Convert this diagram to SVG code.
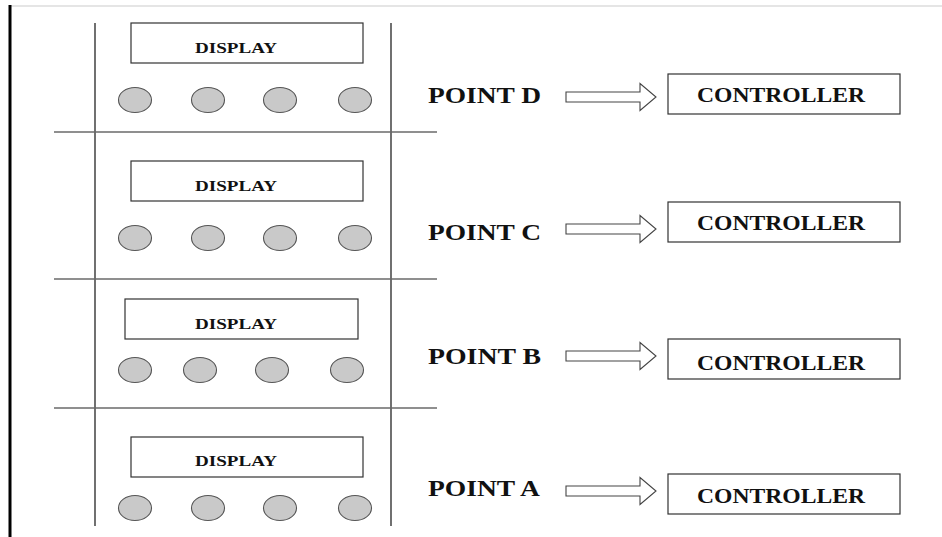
<svg xmlns="http://www.w3.org/2000/svg" width="942" height="537" viewBox="0 0 942 537">
<style>
.bg{fill:#fff}
.frame{stroke:#111;stroke-width:1.2;fill:none}
.sep{stroke:#6a6a6a;stroke-width:1.4;fill:none}
.disp{fill:#fff;stroke:#333;stroke-width:1.2}
.btn{fill:#c9c9c9;stroke:#555;stroke-width:1.1}
.ctrl{fill:#fff;stroke:#333;stroke-width:1.2}
.arrow{fill:#fff;stroke:#444;stroke-width:1.1}
.t{font-family:"Liberation Serif","Times New Roman",serif;font-weight:bold;fill:#111}
.dt{font-size:15px}
.pt{font-size:23px}
.ct{font-size:20px}
</style>
<rect class="bg" x="0" y="0" width="942" height="537"/>
<line x1="10" y1="6" x2="942" y2="6" stroke="#dcdcdc" stroke-width="1.5"/>
<line x1="10" y1="5" x2="10" y2="537" stroke="#000" stroke-width="3"/>

<g id="frame">
<line class="frame" x1="95" y1="23" x2="95" y2="526"/>
<line class="frame" x1="391" y1="23" x2="391" y2="526"/>
<line class="sep" x1="54" y1="132" x2="437" y2="132"/>
<line class="sep" x1="54" y1="279" x2="437" y2="279"/>
<line class="sep" x1="54" y1="408" x2="437" y2="408"/>
</g>

<g id="panel-d">
<rect class="disp" x="131" y="23" width="232" height="40"/>
<text class="t dt" x="236" y="53" text-anchor="middle" textLength="82" lengthAdjust="spacingAndGlyphs">DISPLAY</text>
<ellipse class="btn" cx="135" cy="100" rx="16.5" ry="12.5"/>
<ellipse class="btn" cx="208" cy="100" rx="16.5" ry="12.5"/>
<ellipse class="btn" cx="280" cy="100" rx="16.5" ry="12.5"/>
<ellipse class="btn" cx="355" cy="100" rx="16.5" ry="12.5"/>
</g>

<g id="panel-c">
<rect class="disp" x="131" y="161" width="232" height="40"/>
<text class="t dt" x="236" y="191" text-anchor="middle" textLength="82" lengthAdjust="spacingAndGlyphs">DISPLAY</text>
<ellipse class="btn" cx="135" cy="238" rx="16.5" ry="12.5"/>
<ellipse class="btn" cx="208" cy="238" rx="16.5" ry="12.5"/>
<ellipse class="btn" cx="280" cy="238" rx="16.5" ry="12.5"/>
<ellipse class="btn" cx="355" cy="238" rx="16.5" ry="12.5"/>
</g>

<g id="panel-b">
<rect class="disp" x="125" y="299" width="233" height="40"/>
<text class="t dt" x="236" y="329" text-anchor="middle" textLength="82" lengthAdjust="spacingAndGlyphs">DISPLAY</text>
<ellipse class="btn" cx="135" cy="370" rx="16.5" ry="12.5"/>
<ellipse class="btn" cx="200" cy="370" rx="16.5" ry="12.5"/>
<ellipse class="btn" cx="272" cy="370" rx="16.5" ry="12.5"/>
<ellipse class="btn" cx="347" cy="370" rx="16.5" ry="12.5"/>
</g>

<g id="panel-a">
<rect class="disp" x="131" y="437" width="232" height="40"/>
<text class="t dt" x="236" y="466" text-anchor="middle" textLength="82" lengthAdjust="spacingAndGlyphs">DISPLAY</text>
<ellipse class="btn" cx="135" cy="508" rx="16.5" ry="12.5"/>
<ellipse class="btn" cx="208" cy="508" rx="16.5" ry="12.5"/>
<ellipse class="btn" cx="280" cy="508" rx="16.5" ry="12.5"/>
<ellipse class="btn" cx="355" cy="508" rx="16.5" ry="12.5"/>
</g>

<g id="point-d"><text class="t pt" x="428" y="103" textLength="113" lengthAdjust="spacingAndGlyphs">POINT D</text></g>
<g id="point-c"><text class="t pt" x="428" y="240" textLength="113" lengthAdjust="spacingAndGlyphs">POINT C</text></g>
<g id="point-b"><text class="t pt" x="428" y="364" textLength="113" lengthAdjust="spacingAndGlyphs">POINT B</text></g>
<g id="point-a"><text class="t pt" x="428" y="496" textLength="112" lengthAdjust="spacingAndGlyphs">POINT A</text></g>

<g id="controller-d">
<rect class="ctrl" x="668" y="74" width="232" height="40"/>
<text class="t ct" x="781" y="102" text-anchor="middle" textLength="168" lengthAdjust="spacingAndGlyphs">CONTROLLER</text>
</g>
<g id="controller-c">
<rect class="ctrl" x="668" y="202" width="232" height="40"/>
<text class="t ct" x="781" y="230" text-anchor="middle" textLength="168" lengthAdjust="spacingAndGlyphs">CONTROLLER</text>
</g>
<g id="controller-b">
<rect class="ctrl" x="668" y="339" width="232" height="40"/>
<text class="t ct" x="781" y="370" text-anchor="middle" textLength="168" lengthAdjust="spacingAndGlyphs">CONTROLLER</text>
</g>
<g id="controller-a">
<rect class="ctrl" x="668" y="474" width="232" height="40"/>
<text class="t ct" x="781" y="503" text-anchor="middle" textLength="168" lengthAdjust="spacingAndGlyphs">CONTROLLER</text>
</g>

<g id="connectors">
<path class="arrow" d="M566,92 H640 V83.5 L656,97 L640,110.5 V102 H566 Z"/>
<path class="arrow" d="M566,224 H640 V215.5 L656,229 L640,242.5 V234 H566 Z"/>
<path class="arrow" d="M566,351 H640 V342.5 L656,356 L640,369.5 V361 H566 Z"/>
<path class="arrow" d="M566,486 H640 V477.5 L656,491 L640,504.5 V496 H566 Z"/>
</g>
</svg>
